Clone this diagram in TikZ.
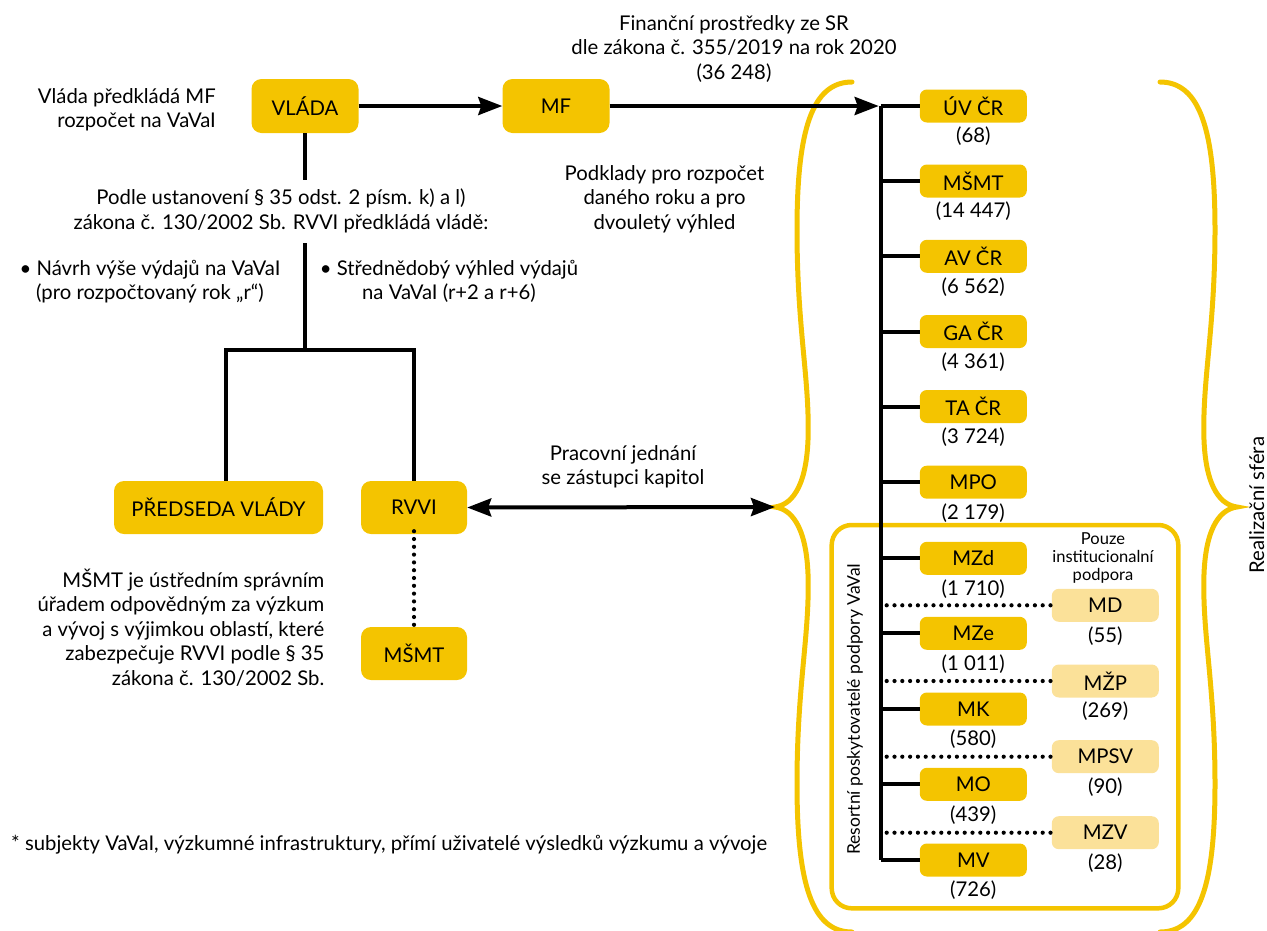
\documentclass[tikz,border=0pt]{standalone}
\usepackage{fontspec}
\setmainfont{Lato}
\usetikzlibrary{arrows.meta}
\definecolor{ybox}{HTML}{F4C400}
\definecolor{ylight}{HTML}{FBE199}
\newcommand{\fsA}{\fontsize{20.3}{24.5}\selectfont}
\newcommand{\fsB}{\fontsize{16.5}{17.8}\selectfont}
\newcommand{\fsC}{\fontsize{17.5}{20}\selectfont}
\begin{document}
\begin{tikzpicture}[x=1pt,y=-1pt,
  every node/.style={font=\fsA, inner sep=0pt, text=black},
  bigbox/.style={fill=ybox, rounded corners=10pt, minimum width=107pt, minimum height=54pt},
  smallbox/.style={fill=ybox, rounded corners=7pt, minimum width=107pt, minimum height=33pt},
  lightbox/.style={smallbox, fill=ylight},
  conn/.style={line width=4pt},
  dotline/.style={line width=4.2pt, line cap=round, dash pattern=on 0pt off 7.8pt},
  arr/.style={-{Stealth[length=24pt,width=18pt,inset=3pt]}},
  biarr/.style={{Stealth[length=24pt,width=18pt,inset=3pt]}-{Stealth[length=24pt,width=18pt,inset=3pt]}},
  bracestyle/.style={draw=ybox, line width=5pt, line cap=round},
  roundframe/.style={draw=ybox, line width=4.5pt, rounded corners=20pt}
]
\useasboundingbox (0,0) rectangle (1267,930);

% braces and frame
\draw[bracestyle] (852,82) .. controls (812,82) and (797,130) .. (797,230)
  .. controls (797,330) and (810,380) .. (808,440)
  .. controls (806,490) and (790,505) .. (775,507)
  .. controls (790,509) and (806,524) .. (808,574)
  .. controls (810,634) and (797,684) .. (797,784)
  .. controls (797,884) and (812,932) .. (852,932);
\draw[bracestyle] (1160,82) .. controls (1200,82) and (1215,130) .. (1215,230)
  .. controls (1215,330) and (1202,380) .. (1204,440)
  .. controls (1206,490) and (1222,505) .. (1237,507)
  .. controls (1222,509) and (1206,524) .. (1204,574)
  .. controls (1202,634) and (1215,684) .. (1215,784)
  .. controls (1215,884) and (1200,932) .. (1160,932);
\coordinate (btip) at (775,507);
\draw[roundframe] (831.7,525) rectangle (1178.3,908.3);

% left part
\node[bigbox] (vlada) at (305,106) {VLÁDA};
\node[bigbox] (mf) at (556,106) {MF};
\node[bigbox, minimum width=209pt, minimum height=53pt] (pv) at (218.5,507.5) {PŘEDSEDA VLÁDY};
\node[bigbox, minimum height=53pt, minimum width=106pt] (rvvi) at (414,507.5) {RVVI};
\node[bigbox, minimum height=53pt, minimum width=106pt] (msmtb) at (414,653.5) {MŠMT};

\node[align=right, anchor=east] (t1) at (216,110) {Vláda předkládá MF\\rozpočet na VaVaI};
\node[align=center] (t2) at (281,211) {Podle ustanovení § 35 odst. 2 písm. k) a l)\\zákona č. 130/2002 Sb. RVVI předkládá vládě:};
\node[align=center] (t3) at (150,281.5) {• Návrh výše výdajů na VaVaI\\(pro rozpočtovaný rok „r“)};
\node[align=center] (t4) at (449,281.5) {• Střednědobý výhled výdajů\\na VaVaI (r+2 a r+6)};
\node[align=right, anchor=east] (t5) at (324.5,627.5) {MŠMT je ústředním správním\\úřadem odpovědným za výzkum\\a vývoj s výjimkou oblastí, které\\zabezpečuje RVVI podle § 35\\zákona č. 130/2002 Sb.};
\node[align=center] (t6) at (734,49) {Finanční prostředky ze SR\\dle zákona č. 355/2019 na rok 2020\\(36 248)};
\node[align=center] (t7) at (664.5,199) {Podklady pro rozpočet\\daného roku a pro\\dvouletý výhled};
\node[align=center] (t8) at (623,467) {Pracovní jednání\\se zástupci kapitol};
\node[anchor=west] (t9) at (11,845) {* subjekty VaVaI, výzkumné infrastruktury, přímí uživatelé výsledků výzkumu a vývoje};

\coordinate (v1) at (305,180);
\coordinate (v2) at (305,243);
\coordinate (bl) at (226,350);
\draw[conn] (vlada.south) -- (v1);
\draw[conn] (v2) -- (v2 |- bl);
\draw[conn] (pv.north -| bl) -- (bl) -- (bl -| rvvi.north) -- (rvvi.north);
\draw[dotline] ([yshift=3pt]rvvi.south) -- (msmtb.north);
\draw[conn, arr] (vlada.east) -- (mf.west);
\draw[conn, biarr] (rvvi.east) -- (btip);

% right part
\coordinate (ttop) at (880.7,106);
\coordinate (dl) at (886.7,0);
\draw[conn, arr, shorten >=2pt] (mf.east) -- (ttop);
\foreach \n/\t/\y/\v in {uv/ÚV ČR/106/68, msmt/MŠMT/181/14 447, av/AV ČR/256.3/6 562, ga/GA ČR/331.5/4 361, ta/TA ČR/406.5/3 724, mpo/MPO/482.2/2 179, mzd/MZd/558.3/1 710, mze/MZe/633.3/1 011, mk/MK/709/580, mo/MO/784.3/439, mv/MV/860/726} {
  \node[smallbox] (\n) at (973.3,\y) {\t};
  \node (\n-v) at (973.3,\y+30.5) {(\v)};
  \draw[conn] (\n.west) -- (\n.west -| ttop);
}
\draw[conn] (ttop) -- (ttop |- mv.west);
\foreach \n/\t/\y/\v in {md/MD/605.3/55, mzp/MŽP/681/269, mpsv/MPSV/756.7/90, mzv/MZV/832.7/28} {
  \node[lightbox] (\n) at (1105.3,\y) {\t};
  \node (\n-v) at (1105.3,\y+30.5) {(\v)};
  \draw[dotline] (\n.west -| dl) -- (\n.west);
}
\node[align=center, font=\fsB] (pouze) at (1103,558) {Pouze\\institucionalní\\podpora};
\node[rotate=90, font=\fsC] (resort) at (855,709) {Resortní poskytovatelé podpory VaVaI};
\node[rotate=90] (realiz) at (1256.7,505) {Realizační sféra};
\end{tikzpicture}
\end{document}
